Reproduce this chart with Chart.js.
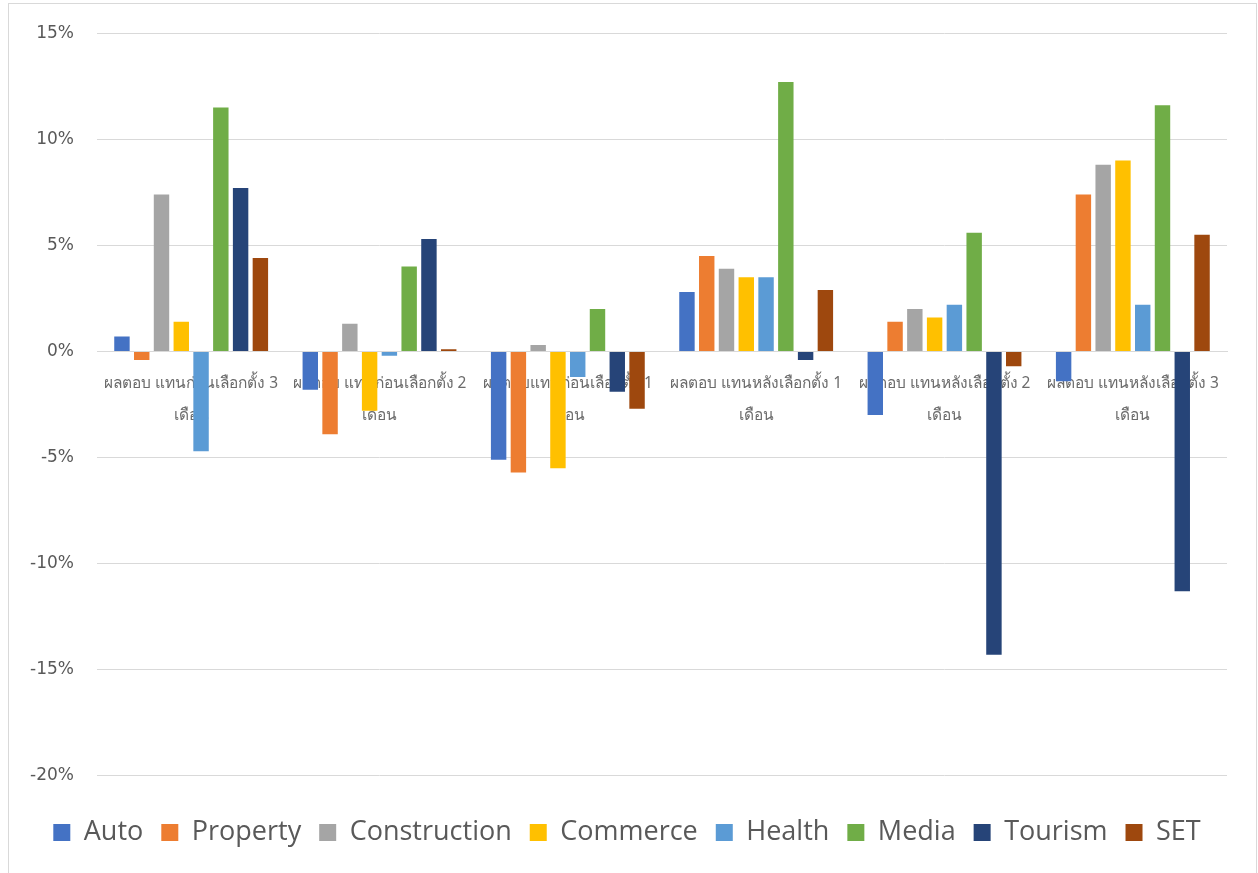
<!DOCTYPE html>
<html>
<head>
<meta charset="utf-8">
<script src="https://cdn.jsdelivr.net/npm/chart.js@4.4.1/dist/chart.umd.min.js"></script>
<style>
  html, body { margin: 0; padding: 0; background: #fff; }
  #wrap { position: relative; width: 1258px; height: 873px; overflow: hidden; }
  #frame { position: absolute; left: 8px; top: 3px; width: 1249px; height: 900px; border: 1px solid #D9D9D9; box-sizing: border-box; }
  #chart { position: absolute; left: 0; top: 0; }
</style>
</head>
<body>
<div id="wrap">
  <div id="frame"></div>
  <canvas id="chart" width="1258" height="873"></canvas>
</div>
<script>
// categories (two-line labels as in the original)
const categories = [
  ['ผลตอบ แทนก่อนเลือกตั้ง 3', 'เดือน'],
  ['ผลตอบ แทนก่อนเลือกตั้ง 2', 'เดือน'],
  ['ผลตอบแทนก่อนเลือกตั้ง 1', 'เดือน'],
  ['ผลตอบ แทนหลังเลือกตั้ง 1', 'เดือน'],
  ['ผลตอบ แทนหลังเลือกตั้ง 2', 'เดือน'],
  ['ผลตอบ แทนหลังเลือกตั้ง 3', 'เดือน']
];

// returns in %
const auto         = [0.7, -1.8, -5.1, 2.8, -3.0, -1.4];
const property     = [-0.4, -3.9, -5.7, 4.5, 1.4, 7.4];
const construction = [7.4, 1.3, 0.3, 3.9, 2.0, 8.8];
const commerce     = [1.4, -2.8, -5.5, 3.5, 1.6, 9.0];
const health       = [-4.7, -0.2, -1.2, 3.5, 2.2, 2.2];
const media        = [11.5, 4.0, 2.0, 12.7, 5.6, 11.6];
const tourism      = [7.7, 5.3, -1.9, -0.4, -14.3, -11.3];
const setIndex     = [4.4, 0.1, -2.7, 2.9, -0.7, 5.5];

const yTicks = { min: -20, max: 15, step: 5 };

const series = [
  { label: 'Auto', data: auto, color: '#4472C4' },
  { label: 'Property', data: property, color: '#ED7D31' },
  { label: 'Construction', data: construction, color: '#A5A5A5' },
  { label: 'Commerce', data: commerce, color: '#FFC000' },
  { label: 'Health', data: health, color: '#5B9BD5' },
  { label: 'Media', data: media, color: '#70AD47' },
  { label: 'Tourism', data: tourism, color: '#264478' },
  { label: 'SET', data: setIndex, color: '#9E480E' }
];

const ctx = document.getElementById('chart').getContext('2d');
new Chart(ctx, {
  type: 'bar',
  data: {
    labels: categories,
    datasets: series.map(s => ({
      label: s.label,
      data: s.data,
      backgroundColor: s.color,
      borderWidth: 0,
      categoryPercentage: 0.84,
      barPercentage: 0.78
    }))
  },
  options: {
    responsive: false,
    animation: false,
    layout: { padding: { left: 27, right: 31, top: 32, bottom: 17 } },
    plugins: {
      tooltip: { enabled: false },
      legend: {
        position: 'bottom',
        // empty title used as a spacer between plot and legend
        title: { display: true, text: ' ', font: { size: 1 }, padding: { top: 12, bottom: 12 } },
        labels: {
          boxWidth: 17,
          boxHeight: 17,
          padding: 18,
          color: '#595959',
          font: { family: '"Open Sans", sans-serif', size: 27 }
        }
      }
    },
    scales: {
      x: {
        position: { y: 0 },
        grid: { display: false },
        border: { color: '#D9D9D9', width: 1 },
        ticks: {
          color: '#6b6b6b',
          padding: 8,
          maxRotation: 0,
          autoSkip: false,
          font: { family: '"Noto Sans", sans-serif', size: 15.5, lineHeight: 2.07 }
        },
        afterFit: s => { s.height = 5; }
      },
      y: {
        min: yTicks.min,
        max: yTicks.max,
        grid: { color: '#D9D9D9', lineWidth: 1, drawTicks: false },
        border: { display: false },
        ticks: {
          stepSize: yTicks.step,
          color: '#595959',
          padding: 23,
          font: { family: '"DejaVu Sans", sans-serif', size: 17 },
          callback: v => v + '%'
        },
        afterFit: s => { s.width = 70; }
      }
    }
  }
});
</script>
</body>
</html>
